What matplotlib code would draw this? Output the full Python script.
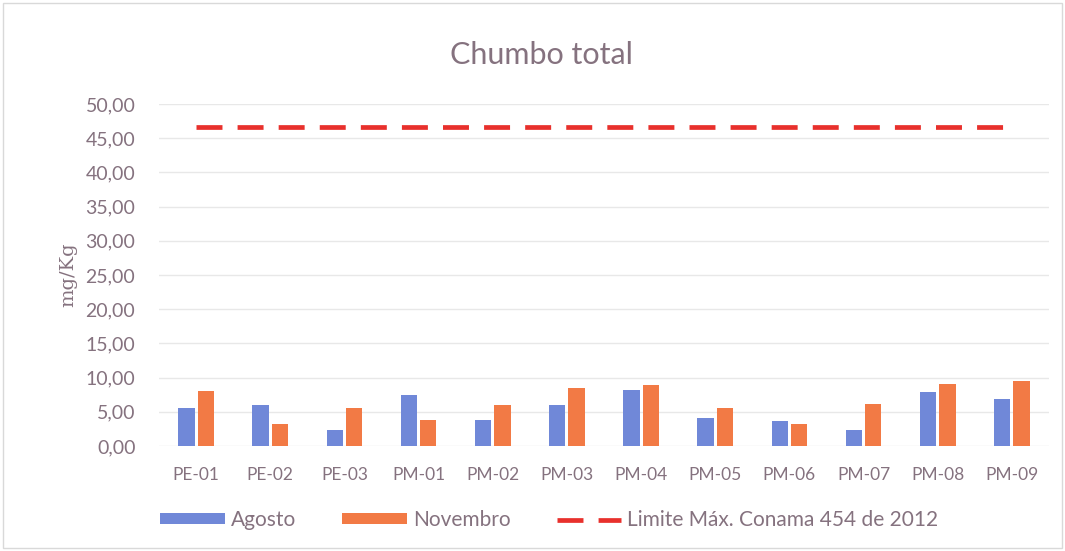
import matplotlib.pyplot as plt
import numpy as np
from matplotlib.ticker import FuncFormatter
from matplotlib.patches import Rectangle

# Dados
pontos = ['PE-01', 'PE-02', 'PE-03', 'PM-01', 'PM-02', 'PM-03',
          'PM-04', 'PM-05', 'PM-06', 'PM-07', 'PM-08', 'PM-09']
agosto = [5.6, 5.95, 2.3, 7.45, 3.75, 6.0, 8.2, 4.05, 3.65, 2.3, 7.9, 6.8]
novembro = [8.0, 3.2, 5.6, 3.75, 6.0, 8.45, 8.9, 5.6, 3.2, 6.1, 9.05, 9.5]
limite = [46.7] * len(pontos)

cor_texto = '#85727f'
plt.rcParams['font.family'] = ['Lato', 'DejaVu Sans']

fig = plt.figure(figsize=(10.65, 5.51), dpi=100)
ax = fig.add_axes([159 / 1065, 1 - 446 / 551, 890 / 1065, 342 / 551])

x = np.arange(len(pontos))
w = 0.22
b1 = ax.bar(x - w / 2 - 0.02, agosto, w, color='#7088d8', label='Agosto', zorder=3)
b2 = ax.bar(x + w / 2 + 0.02, novembro, w, color='#f27a45', label='Novembro', zorder=3)
l1, = ax.plot(x, limite, color='#e8302c', linewidth=3.4, dashes=(5.5, 3.2),
              label='Limite Máx. Conama 454 de 2012', zorder=4)

ax.set_ylim(0, 50)
ax.set_xlim(-0.5, len(pontos) - 0.5)
ax.set_yticks(np.arange(0, 51, 5))
ax.yaxis.set_major_formatter(FuncFormatter(lambda v, p: f'{v:.2f}'.replace('.', ',')))
ax.set_xticks(x)
ax.set_xticklabels(pontos)
ax.tick_params(length=0, colors=cor_texto)
ax.tick_params(axis='y', labelsize=14, pad=17)
ax.tick_params(axis='x', labelsize=12.5, pad=15)
ax.grid(axis='y', color='#e8e8e8', linewidth=1, zorder=0)
for s in ax.spines.values():
    s.set_visible(False)

ax.set_ylabel('mg/Kg', fontsize=14, color=cor_texto, family='DejaVu Serif', labelpad=6)
fig.text(0.508, 0.90, 'Chumbo total', ha='center', va='center', fontsize=22, color=cor_texto)

leg = fig.legend([b1, b2, l1], ['Agosto', 'Novembro', 'Limite Máx. Conama 454 de 2012'],
                 loc='center', bbox_to_anchor=(0.516, 0.056), ncol=3, frameon=False,
                 fontsize=15, handlelength=3.1, handleheight=0.45, columnspacing=2.2,
                 handletextpad=0.3)
for t in leg.get_texts():
    t.set_color(cor_texto)

fig.patches.append(Rectangle((0.003, 0.005), 0.994, 0.99, transform=fig.transFigure,
                             fill=False, edgecolor='#d9d9d9', linewidth=1))

plt.savefig('out.png', dpi=100)
